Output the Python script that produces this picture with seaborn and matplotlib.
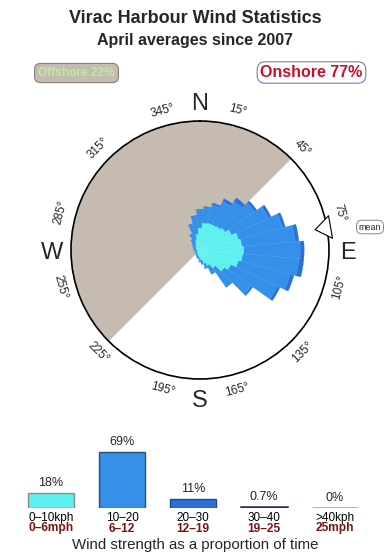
import numpy as np
import matplotlib
matplotlib.use("Agg")
import matplotlib.pyplot as plt
import seaborn as sns
import pandas as pd

# ---------------- data ----------------
title = "Virac Harbour Wind Statistics"
subtitle = "April averages since 2007"
offshore_pct = 22
onshore_pct = 77
offshore_from, offshore_to = 225, 45   # offshore sector (clockwise, through N)
mean_dir = 80

# rose: direction bins (deg) and band contributions (scaled frequency)
rose_dirs = list(range(0, 360, 10))
band_0_10 = [22, 27, 28, 28, 29, 31, 35, 40, 42, 44, 43, 40, 34, 30, 22, 17, 14, 10,
             8, 6, 5, 4, 4, 3, 3, 3, 3, 3, 3, 4, 4, 5, 6, 8, 11, 16]
band_10_20 = [18, 16, 19, 26, 31, 36, 41, 46, 54, 57, 57, 54, 52, 33, 23, 9, 5, 4,
              4, 3, 3, 3, 2, 2, 2, 2, 2, 3, 3, 3, 4, 5, 7, 10, 16, 18]
band_20_30 = [1, 1, 2, 3, 4, 3, 3, 3, 4, 4, 5, 4, 3, 2, 1, 1, 0.5, 0.5,
              0, 0, 0, 0, 0, 0, 0, 0, 0, 0, 0, 0, 0, 0, 0, 0, 0.5, 1]
rose_rmax = 130

tick_degs = [15, 45, 75, 105, 135, 165, 195, 225, 255, 285, 315, 345]
compass = {"N": 0, "E": 90, "S": 180, "W": 270}

# strength histogram
speed_kph = ["0\u201310kph", "10\u201320", "20\u201330", "30\u201340", ">40kph"]
speed_mph = ["0\u20136mph", "6\u201312", "12\u201319", "19\u201325", "25mph"]
speed_pct = [18, 69, 11, 0.7, 0]
speed_colors = ["#5cf0ee", "#3490e8", "#2a6fdc", "#1e2f55", "#9a9a9a"]
speed_edges = ["#8a8a8a", "#2c4f78", "#1f4a8a", "#1e2f55", "#9a9a9a"]

# ---------------- style ----------------
sns.set_style("white")
plt.rcParams["font.family"] = ["Liberation Sans", "DejaVu Sans"]

fig = plt.figure(figsize=(3.9, 5.6), dpi=100)

# titles
fig.text(0.5, 1 - 18.5 / 560, title, ha="center", va="center",
         fontsize=13, fontweight="bold")
fig.text(0.5, 1 - 41 / 560, subtitle, ha="center", va="center",
         fontsize=11.5, fontweight="bold")

# offshore / onshore boxes
fig.text(76.5 / 390, 1 - 73 / 560, f"Offshore {offshore_pct}%", ha="center", va="center",
         fontsize=8.6, fontweight="bold", color="#b6f09a",
         bbox=dict(boxstyle="round,pad=0.3,rounding_size=0.5", fc="#c5bbb0", ec="#8a8078", lw=0.8))
fig.text(311.5 / 390, 1 - 72.5 / 560, f"Onshore {onshore_pct}%", ha="center", va="center",
         fontsize=11.5, fontweight="bold", color="#c8102e",
         bbox=dict(boxstyle="round,pad=0.2,rounding_size=0.5", fc="white", ec="#6a86a8", lw=0.8))

# ---------------- rose ----------------
ax = fig.add_axes([0.182, 0.3232, 0.6615, 0.4607], projection="polar")
ax.set_theta_zero_location("N")
ax.set_theta_direction(-1)
ax.set_ylim(0, rose_rmax)
ax.grid(False)
ax.set_yticks([])
ax.set_facecolor("white")

# offshore wedge
span = (offshore_to - offshore_from) % 360
mid = offshore_from + span / 2
ax.bar(np.radians(mid), rose_rmax, width=np.radians(span), bottom=0,
       color="#c5bbb0", edgecolor="none", zorder=1)

theta = np.radians(rose_dirs)
w = np.radians(10)
b1 = np.array(band_0_10, dtype=float)
b2 = np.array(band_10_20, dtype=float)
b3 = np.array(band_20_30, dtype=float)
ax.bar(theta, b3, width=w, bottom=b1 + b2, color="#2a6fdc", edgecolor="#2a6fdc", lw=0.2, zorder=2)
ax.bar(theta, b2, width=w, bottom=b1, color="#3490e8", edgecolor="#3d98ec", lw=0.3, zorder=2)
ax.bar(theta, b1, width=w, bottom=0, color="#5cf0ee", edgecolor="#6cf4f2", lw=0.3, zorder=3)

ax.spines["polar"].set_linewidth(1.2)
ax.spines["polar"].set_color("black")
ax.set_xticks(np.radians(tick_degs))
ax.set_xticklabels([""] * len(tick_degs))
ax.tick_params(axis="x", direction="in", length=4, width=0.8, colors="black")

for d in tick_degs:
    rot = (-d) % 180
    if rot > 90:
        rot -= 180
    ax.text(np.radians(d), rose_rmax * 1.12, f"{d}\u00b0", rotation=rot,
            rotation_mode="anchor", ha="center", va="center", fontsize=8.5)

for lab, d in compass.items():
    ax.text(np.radians(d), rose_rmax * 1.15, lab, ha="center", va="center_baseline",
            fontsize=17)

# mean arrow
ax.annotate("", xy=(np.radians(mean_dir), rose_rmax * 0.885),
            xytext=(np.radians(mean_dir), rose_rmax * 1.01),
            arrowprops=dict(arrowstyle="simple,head_length=0.75,head_width=1.1,tail_width=0.45",
                            fc="white", ec="black", lw=0.8, mutation_scale=15),
            annotation_clip=False, zorder=5)
fig.text(370 / 390, 1 - 227 / 560, "mean", ha="center", va="center", fontsize=6.5,
         bbox=dict(boxstyle="round,pad=0.25,rounding_size=0.6", fc="white", ec="#888888", lw=0.7))

# ---------------- strength bars ----------------
axb = fig.add_axes([15.5 / 390, 1 - 508 / 560, 355 / 390, 68 / 560])
df = pd.DataFrame({"speed": speed_kph, "pct": speed_pct})
sns.barplot(data=df, x="speed", y="pct", hue="speed", palette=speed_colors,
            legend=False, width=0.65, ax=axb, saturation=1)
axb.set_ylim(0, 69 * 68 / 56)
axb.set_xlim(-0.5, len(speed_kph) - 0.5)
for patch, ec, v in zip(axb.patches, speed_edges, speed_pct):
    patch.set_edgecolor(ec)
    patch.set_linewidth(1.0 if v > 5 else 1.8)
for cont, v in zip(axb.containers, speed_pct):
    axb.bar_label(cont, labels=[f"{v:g}%"], padding=3, fontsize=9)
axb.set_xticks([])
axb.set_yticks([])
axb.set_xlabel("")
axb.set_ylabel("")
for s in axb.spines.values():
    s.set_visible(False)
trans = axb.get_xaxis_transform()
for i, (k, m) in enumerate(zip(speed_kph, speed_mph)):
    axb.text(i, -13 / 68, k, transform=trans, ha="center", va="baseline",
             fontsize=8.5, color="black")
    axb.text(i, -23.5 / 68, m, transform=trans, ha="center", va="baseline",
             fontsize=8.6, fontweight="bold", color="#7a1414")

fig.text(0.5, 1 - 549 / 560, "Wind strength as a proportion of time", ha="center",
         va="baseline", fontsize=10.8)

fig.savefig("out.png", dpi=100)
